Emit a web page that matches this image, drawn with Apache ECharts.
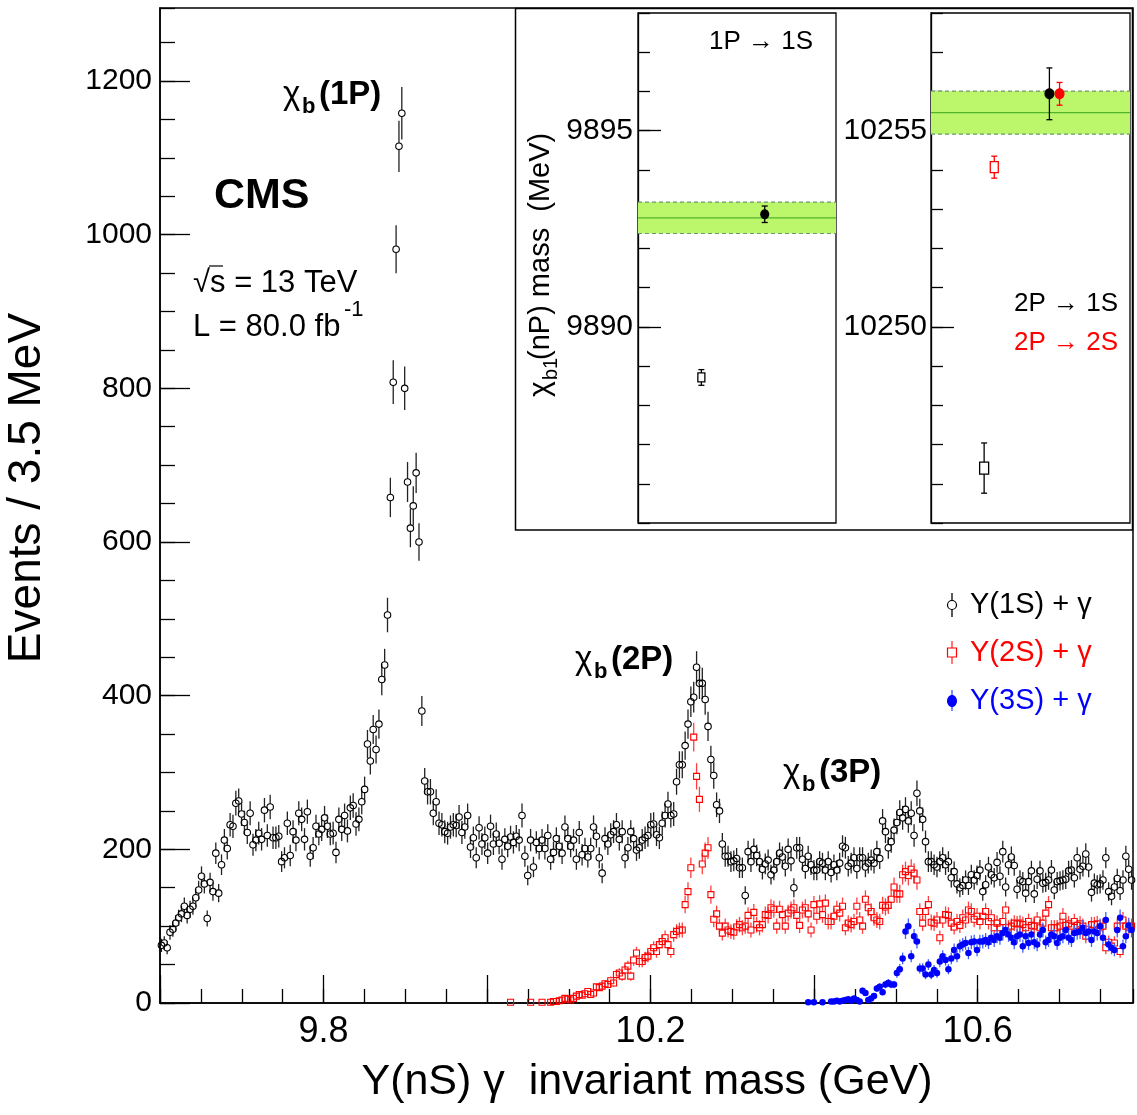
<!DOCTYPE html>
<html>
<head>
<meta charset="utf-8">
<script src="https://cdn.jsdelivr.net/npm/echarts@6/dist/echarts.min.js"></script>
<style>
  html, body { margin: 0; padding: 0; background: #fff; }
  #chart { width: 1137px; height: 1115px; }
</style>
</head>
<body>
<div id="chart"></div>
<script>
"use strict";

const FONT = "'Liberation Sans', Arial, Helvetica, sans-serif";

//
// data: events per 3.5 MeV bin, bins start at 9.6 GeV
//
const x_min = 9.6;
const x_max = 10.79;
const bin_width = 0.0035; // GeV
const y_max = 1295;
const x_labels = ["9.8", "10.2", "10.6"];

const y1s_start = 0;
const y1s_counts = [
  75, 78, 72, 92, 96, 104, 111, 116, 126, 114,
  122, 126, 137, 147, 165, 155, 110, 157, 145, 195,
  143, 180, 212, 201, 232, 230, 260, 263, 246, 235,
  222, 247, 206, 212, 221, 213, 251, 218, 255, 215,
  215, 217, 184, 189, 234, 192, 223, 212, 247, 239,
  213, 249, 191, 202, 230, 220, 226, 241, 230, 220,
  221, 196, 239, 226, 244, 224, 254, 257, 233, 239,
  262, 278, 337, 315, 356, 330, 363, 421, 440, 505,
  658, 808, 981, 1115, 1158, 800, 678, 618, 647, 690, 600, 380,
  289, 275, 275, 247, 262, 234, 232, 223, 221, 229,
  232, 231, 242, 222, 229, 244, 203, 215, 189, 228,
  207, 215, 195, 230, 207, 220, 208, 187, 213, 204,
  216, 209, 217, 212, 244, 191, 166, 212, 177, 209,
  201, 212, 201, 218, 187, 196, 214, 204, 195, 229,
  214, 204, 212, 187, 222, 193, 201, 190, 201, 229,
  217, 189, 169, 214, 207, 219, 223, 232, 213,
  223, 189, 202, 223, 214, 199, 202, 212, 215, 218,
  232, 233, 219, 215, 234, 244, 259, 244, 246, 288,
  310, 310, 335, 363, 392, 398, 437, 416, 416, 395,
  360, 317, 296, 258, 250, 207, 191, 191, 184, 185,
  188, 176, 176, 140, 197,
  184, 200, 192, 184, 174, 181, 186, 167, 173, 184,
  195, 190, 178, 200, 185, 150, 202, 202, 187, 175,
  191, 180, 173, 173, 184, 182, 173, 184, 170, 180,
  173, 182, 204, 202, 178, 182, 189, 175, 189, 189,
  177, 182, 186, 182, 197, 188,
  237, 223, 202, 210, 225, 235, 248, 241, 252, 237,
  247, 218, 273, 250, 239, 210, 184, 184, 180, 177,
  184, 189, 180, 184, 163, 171, 155, 150, 153, 160,
  153, 167, 160, 166, 173, 145, 154, 177, 167, 163,
  183, 165, 197, 151, 180, 190, 179, 148, 160,
  158, 143, 158, 172, 142, 161, 172, 156, 157, 160,
  173, 147, 158, 159, 160, 161, 172, 173, 163, 189,
  174, 178, 194, 177, 144, 156, 154, 155, 160, 189,
  145, 139, 151, 162, 146, 160, 191, 174, 160,
];

const y2s_start = 122;
const y2s_counts = [
  1, null, null, null, null, null, null, 1, null, null, null, 1, null, null, 1,
  2, 2, 3, 4, 6, 5, 4, 6, 9, 11,
  10, 12, 15, 11, 13, 21, 20, 22, 25, 24,
  29, 26, 37, 39,
  35, 43, 48, 35, 56, 65, 54, 54, 59, 61,
  67, 72, 67, 76, 80, 85, 76, 67, 89, 93,
  95, 95, 128, 145, 176, 346, 295, 265, 181, 195,
  202, 141, 109, 116, 100, 91, 100, 95, 93, 92,
  99, 102, 98, 100, 114,
  95, 118, 102, 98, 102, 115, 114, 124, 122, 100,
  122, 115, 100, 117, 121, 124, 114, 101, 121, 124,
  116, 95, 128, 113, 129, 115, 130, 106, 106, 113,
  122, 117, 126, 98, 104, 102, 106, 126, 108, 100,
  135, 124, 119, 111, 108, 106, 127, 125, 127, 135,
  151, 142, 142, 167, 171, 166, 174, 169, 160,
  119, 104, 119, 128, 105, 104, 108, 85, 108, 115,
  114, 104, 99, 106, 101, 111, 108, 121, 119, 109,
  113, 106, 113, 119, 106, 111, 98, 104, 98, 106,
  121, 98, 100, 104, 103, 104,
  102, 98, 106, 101, 100, 108, 98, 104, 117, 128,
  98, 98, 98, 100, 113, 101, 103, 100, 106, 101,
  103, 100, 87, 96, 102, 102, 103, 98, 100, 72,
  79, 74, 78, 100, 67, 108, 100, 98, 100,
];

const y3s_start = 226;
const y3s_counts = [
  1, null, 1, null, null, 1, null, null, 2, 2,
  3, 2, 3, 4, 5, 3, 6, 4, 2, 16,
  13, 4, 6, 9, 19, 21, 14, 24, 26, 24,
  24, 39, 44, 58, 93, 100, 61, 87, 80, 45,
  45, 37, 50, 37, 43, 39, 54, 61, 56, 44,
  58, 69, 61, 74, 76, 78, 65, 79, 80, 69,
  80, 80, 82, 79, 85, 82, 87, 85, 91, 95,
  89, 85, 79, 87, 89,
  74, 87, 78, 89, 79, 76, 89, 95, 79, 82,
  89, 87, 78, 85, 87, 95, 85, 82, 91, 92,
  93, 98, 91, 93, 82, 93, 91, 100, 85, 108,
  76, 72, 69, 95, 111, 74, 87, 101, 95,
];

// inset: chi_b1(nP) masses in MeV, [x position in panel (0..1), mass, error]
const band_1p = [9892.78, 0.40]; // [centre, half width]
const band_2p = [10255.46, 0.55];
const mass_1p_filled = [[0.64, 9892.87, 0.21]];
const mass_1p_open = [[0.32, 9888.71, 0.20]];
const mass_2p_filled_1s = [[0.595, 10255.94, 0.66]];
const mass_2p_filled_2s = [[0.646, 10255.94, 0.29]];
const mass_2p_open_1s = [[0.267, 10246.40, 0.64]];
const mass_2p_open_2s = [[0.318, 10254.07, 0.28]];

//
// helpers
//
function bins_to_points(start, counts) {
  const points = [];
  counts.forEach(function (n, i) {
    if (n === null) return;
    const x = x_min + (start + i + 0.5) * bin_width;
    points.push([x, n, Math.sqrt(n)]); // poisson error
  });
  return points;
}

function marker_renderer(kind, color, bar_color, size) {
  return function (params, api) {
    const x = api.value(0);
    const y = api.value(1);
    const err = api.value(2);
    const c = api.coord([x, y]);
    const top = api.coord([x, y + err])[1];
    const bot = api.coord([x, Math.max(0, y - err)])[1];
    const r = size / 2;
    const children = [];
    if (kind === "filled_circle") {
      children.push({
        type: "line",
        shape: { x1: c[0], y1: top, x2: c[0], y2: bot },
        style: { stroke: bar_color, lineWidth: 1.3 },
      });
      children.push({
        type: "circle",
        shape: { cx: c[0], cy: c[1], r: r },
        style: { fill: color },
      });
    } else {
      // open markers: the bar stops at the marker
      if (top < c[1] - r) {
        children.push({
          type: "line",
          shape: { x1: c[0], y1: top, x2: c[0], y2: c[1] - r },
          style: { stroke: bar_color, lineWidth: 1.3 },
        });
      }
      if (bot > c[1] + r) {
        children.push({
          type: "line",
          shape: { x1: c[0], y1: c[1] + r, x2: c[0], y2: bot },
          style: { stroke: bar_color, lineWidth: 1.3 },
        });
      }
      if (kind === "open_circle") {
        children.push({
          type: "circle",
          shape: { cx: c[0], cy: c[1], r: r },
          style: { fill: "none", stroke: color, lineWidth: 1.1 },
        });
      } else {
        children.push({
          type: "rect",
          shape: { x: c[0] - r, y: c[1] - r, width: size, height: size },
          style: { fill: "none", stroke: color, lineWidth: 1.1 },
        });
      }
    }
    return { type: "group", children: children };
  };
}

function inset_renderer(kind, color, w, h) {
  return function (params, api) {
    const c = api.coord([api.value(0), api.value(1)]);
    const top = api.coord([api.value(0), api.value(1) + api.value(2)])[1];
    const bot = api.coord([api.value(0), api.value(1) - api.value(2)])[1];
    const children = [
      {
        type: "line",
        shape: { x1: c[0], y1: top, x2: c[0], y2: bot },
        style: { stroke: color, lineWidth: 1.3 },
      },
      {
        type: "line",
        shape: { x1: c[0] - 3, y1: top, x2: c[0] + 3, y2: top },
        style: { stroke: color, lineWidth: 1.3 },
      },
      {
        type: "line",
        shape: { x1: c[0] - 3, y1: bot, x2: c[0] + 3, y2: bot },
        style: { stroke: color, lineWidth: 1.3 },
      },
    ];
    if (kind === "filled") {
      children.push({
        type: "ellipse",
        shape: { cx: c[0], cy: c[1], rx: w / 2, ry: h / 2 },
        style: { fill: color },
      });
    } else {
      children.push({
        type: "rect",
        shape: { x: c[0] - w / 2, y: c[1] - h / 2, width: w, height: h },
        style: { fill: "#fff", stroke: color, lineWidth: 1.3 },
      });
    }
    return { type: "group", children: children };
  };
}

function band_renderer(params, api) {
  const cs = params.coordSys;
  const centre = api.value(0);
  const half = api.value(1);
  const y_hi = api.coord([0.5, centre + half])[1];
  const y_lo = api.coord([0.5, centre - half])[1];
  const y_c = api.coord([0.5, centre])[1];
  const x0 = cs.x;
  const x1 = cs.x + cs.width;
  return {
    type: "group",
    children: [
      {
        type: "rect",
        shape: { x: x0, y: y_hi, width: cs.width, height: y_lo - y_hi },
        style: { fill: "#bcf66a" },
      },
      {
        type: "line",
        shape: { x1: x0, y1: y_hi, x2: x1, y2: y_hi },
        style: { stroke: "#6f9479", lineWidth: 1.2, lineDash: [4, 3] },
      },
      {
        type: "line",
        shape: { x1: x0, y1: y_lo, x2: x1, y2: y_lo },
        style: { stroke: "#6f9479", lineWidth: 1.2, lineDash: [4, 3] },
      },
      {
        type: "line",
        shape: { x1: x0, y1: y_c, x2: x1, y2: y_c },
        style: { stroke: "#4fb52a", lineWidth: 1.3 },
      },
    ],
  };
}

function text_el(x, y, text, size, opts) {
  const o = opts || {};
  return {
    type: "text",
    x: x,
    y: y,
    rotation: o.rotation || 0,
    style: {
      text: text,
      fill: o.color || "#000",
      font: (o.bold ? "bold " : "") + size + "px " + FONT,
      textAlign: o.align || "left",
      textVerticalAlign: "middle",
    },
    z: 10,
  };
}

// chi_b(nP) label: chi, bold subscript b, bold (nP)
function chi_label(x, y, state) {
  return [
    text_el(x, y, "χ", 33),
    text_el(x + 19, y + 12, "b", 22, { bold: true }),
    text_el(x + 36, y, "(" + state + ")", 33, { bold: true }),
  ];
}

//
// chart
//
const chart = echarts.init(document.getElementById("chart"), null, { renderer: "canvas" });

const main_label_style = { color: "#000", fontFamily: FONT, fontSize: 30 };
const inset_label_style = { color: "#000", fontFamily: FONT, fontSize: 30 };
const plain_number = function (v) {
  return String(Math.round(v));
};

const graphics = [
  // inset frame
  {
    type: "rect",
    shape: { x: 515.5, y: 8.5, width: 617, height: 521.5 },
    style: { fill: "none", stroke: "#000", lineWidth: 1.5 },
    z: 5,
  },
  text_el(214, 196, "CMS", 43, { bold: true }),
  text_el(193, 283, "√s = 13 TeV", 31),
  {
    type: "line",
    shape: { x1: 209, y1: 266, x2: 223, y2: 266 },
    style: { stroke: "#000", lineWidth: 1.2 },
    z: 10,
  },
  text_el(193, 327, "L = 80.0 fb", 31),
  text_el(344, 310, "-1", 22),
  ...chi_label(283, 95, "1P"),
  ...chi_label(575, 660, "2P"),
  ...chi_label(783, 773, "3P"),
  // axis titles
  text_el(27, 488, "Events / 3.5 MeV", 46, { align: "center", rotation: Math.PI / 2 }),
  text_el(647, 1082, "Υ(nS) γ  invariant mass (GeV)", 43, { align: "center" }),
  // legend
  {
    type: "line",
    shape: { x1: 952, y1: 593, x2: 952, y2: 601 },
    style: { stroke: "#000", lineWidth: 1.3 },
    z: 10,
  },
  {
    type: "line",
    shape: { x1: 952, y1: 609, x2: 952, y2: 617 },
    style: { stroke: "#000", lineWidth: 1.3 },
    z: 10,
  },
  {
    type: "circle",
    shape: { cx: 952, cy: 605, r: 4.5 },
    style: { fill: "none", stroke: "#000", lineWidth: 1.2 },
    z: 10,
  },
  text_el(970, 605, "Υ(1S) + γ", 29),
  {
    type: "line",
    shape: { x1: 952, y1: 641, x2: 952, y2: 664 },
    style: { stroke: "#ff3030", lineWidth: 1.3 },
    z: 10,
  },
  {
    type: "rect",
    shape: { x: 947.5, y: 648, width: 9, height: 9 },
    style: { fill: "#fff", stroke: "#ff0000", lineWidth: 1.2 },
    z: 10,
  },
  text_el(970, 653, "Υ(2S) + γ", 29, { color: "#ff0000" }),
  {
    type: "line",
    shape: { x1: 952, y1: 690, x2: 952, y2: 711 },
    style: { stroke: "#3050ff", lineWidth: 1.3 },
    z: 10,
  },
  {
    type: "ellipse",
    shape: { cx: 952, cy: 701, rx: 5, ry: 6 },
    style: { fill: "#0000ff" },
    z: 10,
  },
  text_el(970, 701, "Υ(3S) + γ", 29, { color: "#0000ff" }),
  // inset texts
  text_el(709, 42, "1P → 1S", 26),
  text_el(1014, 304, "2P → 1S", 26),
  text_el(1014, 343, "2P → 2S", 26, { color: "#ff0000" }),
  {
    type: "group",
    x: 541,
    y: 256,
    rotation: Math.PI / 2,
    children: [
      text_el(-141, 0, "χ", 30),
      text_el(-124, 10, "b1", 20),
      text_el(-104, 0, "(nP) mass  (MeV)", 29),
    ],
  },
];

const option = {
  animation: false,
  backgroundColor: "#fff",
  grid: [
    { left: 160, top: 8, width: 973, height: 995, show: true, borderColor: "#000", borderWidth: 1.5 },
    { left: 638, top: 13, width: 198, height: 510, show: true, borderColor: "#000", borderWidth: 1.3 },
    { left: 931, top: 13, width: 199, height: 510, show: true, borderColor: "#000", borderWidth: 1.3 },
  ],
  xAxis: [
    {
      gridIndex: 0,
      type: "value",
      position: "bottom",
      min: x_min,
      max: x_max,
      interval: 0.2,
      axisLine: { lineStyle: { color: "#000", width: 1.5 } },
      axisTick: { inside: true, length: 28, lineStyle: { color: "#000", width: 1.3 } },
      splitLine: { show: false },
      axisLabel: {
        ...main_label_style,
        fontSize: 36,
        margin: 11,
        showMaxLabel: false,
        formatter: function (v) {
          const s = v.toFixed(1);
          return x_labels.includes(s) ? s : "";
        },
      },
    },
    {
      gridIndex: 0,
      type: "value",
      position: "bottom",
      min: x_min,
      max: x_max,
      interval: 0.05,
      axisLine: { show: false },
      axisTick: { inside: true, length: 14, lineStyle: { color: "#000", width: 1.3 } },
      axisLabel: { show: false },
      splitLine: { show: false },
    },
    { gridIndex: 1, type: "value", min: 0, max: 1, show: false },
    { gridIndex: 2, type: "value", min: 0, max: 1, show: false },
  ],
  yAxis: [
    {
      gridIndex: 0,
      type: "value",
      position: "left",
      min: 0,
      max: y_max,
      interval: 200,
      axisLine: { show: true, lineStyle: { color: "#000", width: 1.5 } },
      axisTick: { show: true, inside: true, length: 30, lineStyle: { color: "#000", width: 1.3 } },
      splitLine: { show: false },
      axisLabel: { ...main_label_style, margin: 8, showMaxLabel: false, formatter: plain_number },
    },
    {
      gridIndex: 0,
      type: "value",
      position: "left",
      min: 0,
      max: y_max,
      interval: 50,
      axisLine: { show: false },
      axisTick: { show: true, inside: true, length: 15, lineStyle: { color: "#000", width: 1.3 } },
      axisLabel: { show: false },
      splitLine: { show: false },
    },
    {
      gridIndex: 1,
      type: "value",
      position: "left",
      min: 9885,
      max: 9898,
      interval: 5,
      axisLine: { show: true, lineStyle: { color: "#000", width: 1.3 } },
      axisTick: { show: true, inside: true, length: 23, lineStyle: { color: "#000", width: 1.3 } },
      splitLine: { show: false },
      axisLabel: {
        ...inset_label_style,
        margin: 5,
        showMinLabel: false,
        showMaxLabel: false,
        formatter: plain_number,
      },
    },
    {
      gridIndex: 1,
      type: "value",
      position: "left",
      min: 9885,
      max: 9898,
      interval: 1,
      axisLine: { show: false },
      axisTick: { show: true, inside: true, length: 12, lineStyle: { color: "#000", width: 1.3 } },
      axisLabel: { show: false },
      splitLine: { show: false },
    },
    {
      gridIndex: 2,
      type: "value",
      position: "left",
      min: 10245,
      max: 10258,
      interval: 5,
      axisLine: { show: true, lineStyle: { color: "#000", width: 1.3 } },
      axisTick: { show: true, inside: true, length: 23, lineStyle: { color: "#000", width: 1.3 } },
      splitLine: { show: false },
      axisLabel: {
        ...inset_label_style,
        margin: 4,
        showMinLabel: false,
        showMaxLabel: false,
        formatter: plain_number,
      },
    },
    {
      gridIndex: 2,
      type: "value",
      position: "left",
      min: 10245,
      max: 10258,
      interval: 1,
      axisLine: { show: false },
      axisTick: { show: true, inside: true, length: 12, lineStyle: { color: "#000", width: 1.3 } },
      axisLabel: { show: false },
      splitLine: { show: false },
    },
  ],
  series: [
    {
      name: "Y(1S)",
      type: "custom",
      xAxisIndex: 0,
      yAxisIndex: 0,
      data: bins_to_points(y1s_start, y1s_counts),
      renderItem: marker_renderer("open_circle", "#000", "#222", 6.5),
      z: 4,
    },
    {
      name: "Y(2S)",
      type: "custom",
      xAxisIndex: 0,
      yAxisIndex: 0,
      data: bins_to_points(y2s_start, y2s_counts),
      renderItem: marker_renderer("open_square", "#ff0000", "#ff4040", 6),
      z: 4,
    },
    {
      name: "Y(3S)",
      type: "custom",
      xAxisIndex: 0,
      yAxisIndex: 0,
      data: bins_to_points(y3s_start, y3s_counts),
      renderItem: marker_renderer("filled_circle", "#0000ff", "#4060ff", 6.5),
      z: 4,
    },
    {
      type: "custom",
      xAxisIndex: 2,
      yAxisIndex: 2,
      data: [band_1p],
      renderItem: band_renderer,
      z: 3,
    },
    {
      type: "custom",
      xAxisIndex: 3,
      yAxisIndex: 4,
      data: [band_2p],
      renderItem: band_renderer,
      z: 3,
    },
    {
      type: "custom",
      xAxisIndex: 2,
      yAxisIndex: 2,
      data: mass_1p_filled,
      renderItem: inset_renderer("filled", "#000", 9, 10),
      z: 6,
    },
    {
      type: "custom",
      xAxisIndex: 2,
      yAxisIndex: 2,
      data: mass_1p_open,
      renderItem: inset_renderer("open", "#000", 7, 9),
      z: 6,
    },
    {
      type: "custom",
      xAxisIndex: 3,
      yAxisIndex: 4,
      data: mass_2p_open_1s,
      renderItem: inset_renderer("open", "#000", 9, 12),
      z: 6,
    },
    {
      type: "custom",
      xAxisIndex: 3,
      yAxisIndex: 4,
      data: mass_2p_open_2s,
      renderItem: inset_renderer("open", "#ff0000", 8, 11),
      z: 6,
    },
    {
      type: "custom",
      xAxisIndex: 3,
      yAxisIndex: 4,
      data: mass_2p_filled_1s,
      renderItem: inset_renderer("filled", "#000", 10, 11),
      z: 6,
    },
    {
      type: "custom",
      xAxisIndex: 3,
      yAxisIndex: 4,
      data: mass_2p_filled_2s,
      renderItem: inset_renderer("filled", "#ff0000", 10, 11),
      z: 7,
    },
  ],
  graphic: graphics,
};

chart.setOption(option);
</script>
</body>
</html>
